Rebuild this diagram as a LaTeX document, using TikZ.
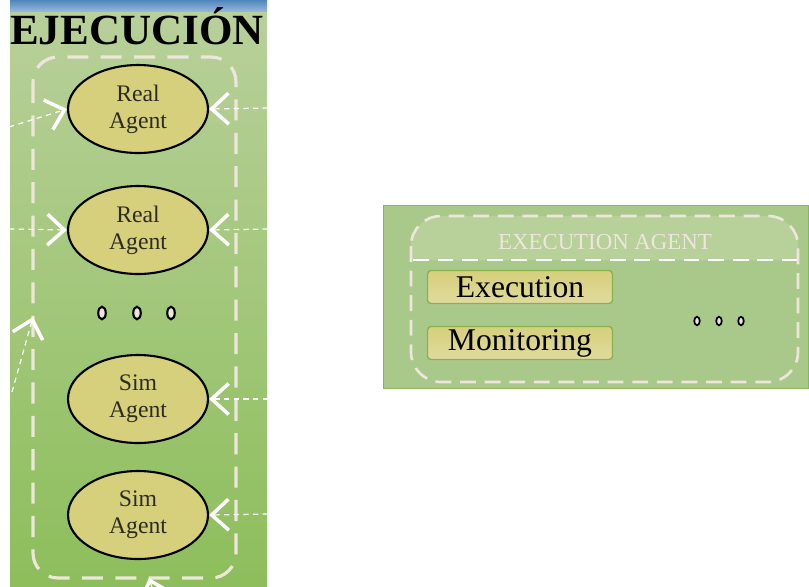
\documentclass[tikz,border=0pt]{standalone}
\usepackage{fontspec}
\setmainfont{Liberation Serif}
\usepackage{tikz}
\usetikzlibrary{shapes,arrows.meta,positioning,calc}

\definecolor{skyblue}{HTML}{4F86BE}
\definecolor{grasstop}{HTML}{B8D09A}
\definecolor{grassbot}{HTML}{8DBE5B}
\definecolor{panelgreen}{HTML}{A9C98A}
\definecolor{paneledge}{HTML}{8CB55A}
\definecolor{agentfill}{HTML}{D6CF7C}
\definecolor{boxedge}{HTML}{8DB04F}
\definecolor{chalk}{HTML}{EDE7DB}
\definecolor{ink}{HTML}{2E2C20}

\tikzset{
    agent/.style={draw=black, line width=1.2pt, ellipse, fill=agentfill,
        minimum width=2.8cm, minimum height=1.76cm, inner sep=0pt,
        align=center, text=ink, font=\fontsize{13.5}{15.5}\selectfont},
    task/.style={draw=boxedge, line width=0.8pt, rectangle, rounded corners=2pt,
        top color=agentfill, bottom color=agentfill!75!white,
        minimum width=3.7cm, minimum height=0.66cm, inner sep=0pt,
        font=\fontsize{18}{18}\selectfont},
    dot/.style={draw=black, line width=1.2pt, ellipse, fill=chalk,
        minimum width=0.15cm, minimum height=0.25cm, inner sep=0pt},
    smalldot/.style={dot, line width=1pt, minimum width=0.11cm, minimum height=0.17cm},
    frame/.style={draw=chalk, line width=1.8pt, rounded corners=0.5cm,
        dash pattern=on 12pt off 7pt},
    feed/.style={draw=white, line width=0.7pt, dash pattern=on 3pt off 2.5pt,
        -{Straight Barb[length=0.34cm, width=0.62cm, line width=2pt]}}
}

\begin{document}
\begin{tikzpicture}[x=0.02cm, y=-0.02cm]
    \useasboundingbox (0,0) rectangle (809,586);
    \clip (0,0) rectangle (809,586);

    % EJECUCION column
    \shade[top color=grasstop, bottom color=grassbot] (10,10) rectangle (267,586);
    \shade[top color=skyblue, bottom color=skyblue!60!white] (10,0) rectangle (267,11);
    \node[font=\bfseries\fontsize{24.5}{24.5}\selectfont] (title) at (137,26) {EJECUCIÓN};
    \draw[frame] (33,57) rectangle (236,578);

    \node[agent] (real1) at (138,109) {Real\\Agent};
    \node[agent] (real2) at (138,230) {Real\\Agent};
    \node[agent] (sim1)  at (138,399) {Sim\\Agent};
    \node[agent] (sim2)  at (138,515) {Sim\\Agent};

    \node[dot] (d1) at (102,313) {};
    \node[dot] (d2) at (137,313) {};
    \node[dot] (d3) at (171,313) {};

    % incoming links
    \coordinate (inA) at (9,127);
    \coordinate (inB) at (9,229);
    \coordinate (outA) at (268,108);
    \coordinate (outB) at (268,229);
    \coordinate (outC) at (268,399);
    \coordinate (outD) at (268,514);
    \coordinate (up) at (12,392);
    \coordinate (upend) at (33,317);
    \coordinate (low) at (158,606);
    \coordinate (lowend) at (149,578);

    \draw[feed] (inA) -- (real1.west);
    \draw[feed] (inB) -- (real2.west);
    \draw[feed] (outA) -- (real1.east);
    \draw[feed] (outB) -- (real2.east);
    \draw[feed] (outC) -- (sim1.east);
    \draw[feed] (outD) -- (sim2.east);
    \draw[feed] (up) -- (upend);
    \draw[feed] (low) -- (lowend);

    % EXECUTION AGENT panel
    \node[draw=paneledge, fill=panelgreen, rectangle, minimum width=8.5cm, minimum height=3.66cm,
        inner sep=0pt] (panel) at (595.5,297) {};
    \fill[grasstop, rounded corners=0.6cm] (411,216) rectangle (798,260);
    \fill[grasstop] (411,240) rectangle (798,260);
    \draw[frame, rounded corners=0.6cm, line width=1.5pt, dash pattern=on 9pt off 5pt] (411,216) rectangle (798,382);
    \draw[draw=white, line width=1.5pt, dash pattern=on 9pt off 5pt] (413,260) -- (797,260);
    \node[text=chalk, font=\fontsize{13}{13}\selectfont] (head) at (605,242) {EXECUTION AGENT};

    \node[task] (exec) at (520,287) {Execution};
    \node[task] (mon)  at (520,343) {Monitoring};

    \node[smalldot] (e1) at (697,321) {};
    \node[smalldot] (e2) at (719,321) {};
    \node[smalldot] (e3) at (741,321) {};

\end{tikzpicture}
\end{document}
